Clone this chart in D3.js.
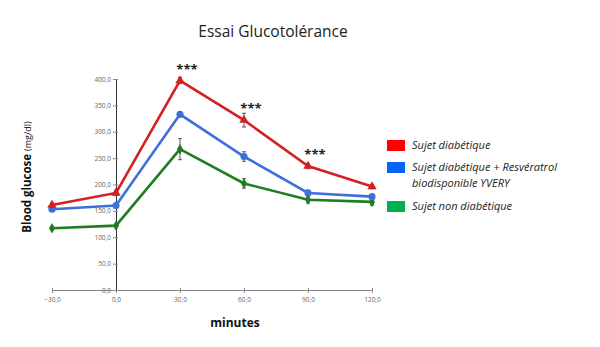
<!DOCTYPE html>
<html>
<head>
<meta charset="utf-8">
<script src="https://cdn.jsdelivr.net/npm/d3@7"></script>
<style>
  body { margin: 0; background: #fff; }
  text { font-family: "Open Sans", "Liberation Sans", sans-serif; }
</style>
</head>
<body>
<div id="chart"></div>
<script>
// data
const minutes = [-30, 0, 30, 60, 90, 120];
const yTicks = [0, 50, 100, 150, 200, 250, 300, 350, 400];
const seriesNames = ['Sujet diabétique', 'Sujet diabétique + Resvératrol biodisponible YVERY', 'Sujet non diabétique'];
const diabetic = [161, 184, 397, 322, 235, 196];
const diabeticErr = [4, 5, 6, 13, 5, 4];
const resveratrol = [153, 160, 333, 253, 184, 177];
const resveratrolErr = [4, 4, 5, 9, 5, 4];
const nonDiabetic = [117, 122, 267, 202, 171, 167];
const nonDiabeticErr = [3, 3, 20, 9, 6, 6];
const starMinutes = [30, 60, 90];

const width = 600, height = 347;
const x = d3.scaleLinear().domain([-30, 120]).range([52, 372]);
const y = d3.scaleLinear().domain([0, 400]).range([290, 79]);
const fmt = d => d3.format('.1f')(d).replace('.', ',');

const svg = d3.select('#chart').append('svg')
  .attr('width', width).attr('height', height);

// title
svg.append('text').attr('x', 273).attr('y', 37)
  .attr('text-anchor', 'middle').style('font-size', '15.5px').style('fill', '#222')
  .text('Essai Glucotolérance');

// x axis
const xAxis = svg.append('g').attr('transform', 'translate(0,' + y(0) + ')')
  .call(d3.axisBottom(x).tickValues(minutes).tickSize(3).tickFormat(fmt));
xAxis.select('.domain').attr('stroke', '#888');
xAxis.selectAll('.tick line').attr('stroke', '#888').attr('y1', -2);
xAxis.selectAll('text').attr('fill', '#666').style('font-size', '6.5px').attr('dy', '0.9em');

// y axis at x = 0 minutes
const yAxis = svg.append('g').attr('transform', 'translate(' + x(0) + ',0)')
  .call(d3.axisLeft(y).tickValues(yTicks).tickSize(3).tickFormat(fmt));
yAxis.select('.domain').attr('stroke', '#333');
yAxis.selectAll('.tick line').attr('stroke', '#888').attr('x1', 2);
yAxis.selectAll('text').attr('fill', '#666').style('font-size', '6.5px').attr('x', -5);

// axis titles
const yl = svg.append('text').attr('transform', 'translate(31,177) rotate(-90)')
  .attr('text-anchor', 'middle').style('fill', '#111');
yl.append('tspan').style('font-size', '11.5px').style('font-weight', 'bold').text('Blood glucose ');
yl.append('tspan').style('font-size', '9px').text('(mg/dl)');

svg.append('text').attr('x', 235).attr('y', 327).attr('text-anchor', 'middle')
  .style('font-size', '12px').style('font-weight', 'bold').style('fill', '#111')
  .text('minutes');

const series = [
  { vals: nonDiabetic, err: nonDiabeticErr, color: '#1e7d1e', shape: d3.symbolDiamond, size: 32 },
  { vals: resveratrol, err: resveratrolErr, color: '#3f6fdc', shape: d3.symbolCircle, size: 40 },
  { vals: diabetic, err: diabeticErr, color: '#d42020', shape: d3.symbolTriangle, size: 38 }
];

const line = d3.line().x((d, i) => x(minutes[i])).y(d => y(d));

series.forEach(s => {
  const g = svg.append('g');
  g.append('path').datum(s.vals).attr('d', line)
    .attr('fill', 'none').attr('stroke', s.color).attr('stroke-width', 2.6);
  // error bars
  const eb = g.selectAll('.err').data(s.vals).enter().append('g');
  eb.append('line')
    .attr('x1', (d, i) => x(minutes[i])).attr('x2', (d, i) => x(minutes[i]))
    .attr('y1', (d, i) => y(d - s.err[i])).attr('y2', (d, i) => y(d + s.err[i]))
    .attr('stroke', '#333').attr('stroke-width', 0.8);
  ['-', '+'].forEach(sign => {
    eb.append('line')
      .attr('x1', (d, i) => x(minutes[i]) - 2).attr('x2', (d, i) => x(minutes[i]) + 2)
      .attr('y1', (d, i) => y(sign === '+' ? d + s.err[i] : d - s.err[i]))
      .attr('y2', (d, i) => y(sign === '+' ? d + s.err[i] : d - s.err[i]))
      .attr('stroke', '#333').attr('stroke-width', 0.8);
  });
  g.selectAll('.pt').data(s.vals).enter().append('path')
    .attr('d', d3.symbol().type(s.shape).size(s.size))
    .attr('transform', (d, i) => 'translate(' + x(minutes[i]) + ',' + y(d) + ')')
    .attr('fill', s.color);
});

// significance stars
svg.selectAll('.star').data(starMinutes).enter().append('text')
  .attr('x', d => x(d) + 7)
  .attr('y', d => y(diabetic[minutes.indexOf(d)]) - 7)
  .attr('text-anchor', 'middle')
  .style('font-size', '13px').style('font-weight', 'bold').style('fill', '#222')
  .text('***');

// legend
const legendColors = ['#ff0000', '#0563f5', '#00b050'];
const legendLines = [['Sujet diabétique'], ['Sujet diabétique + Resvératrol', 'biodisponible YVERY'], ['Sujet non diabétique']];
const legendY = [145, 167, 206];
const lg = svg.append('g');
legendLines.forEach((lines, i) => {
  lg.append('rect').attr('x', 387).attr('y', legendY[i] - 5).attr('width', 18).attr('height', 11)
    .attr('fill', legendColors[i]);
  lines.forEach((t, j) => {
    lg.append('text').attr('x', 412).attr('y', legendY[i] + 4 + j * 16)
      .style('font-size', '11px').style('font-style', 'italic').style('fill', '#222')
      .text(t);
  });
});
</script>
</body>
</html>
